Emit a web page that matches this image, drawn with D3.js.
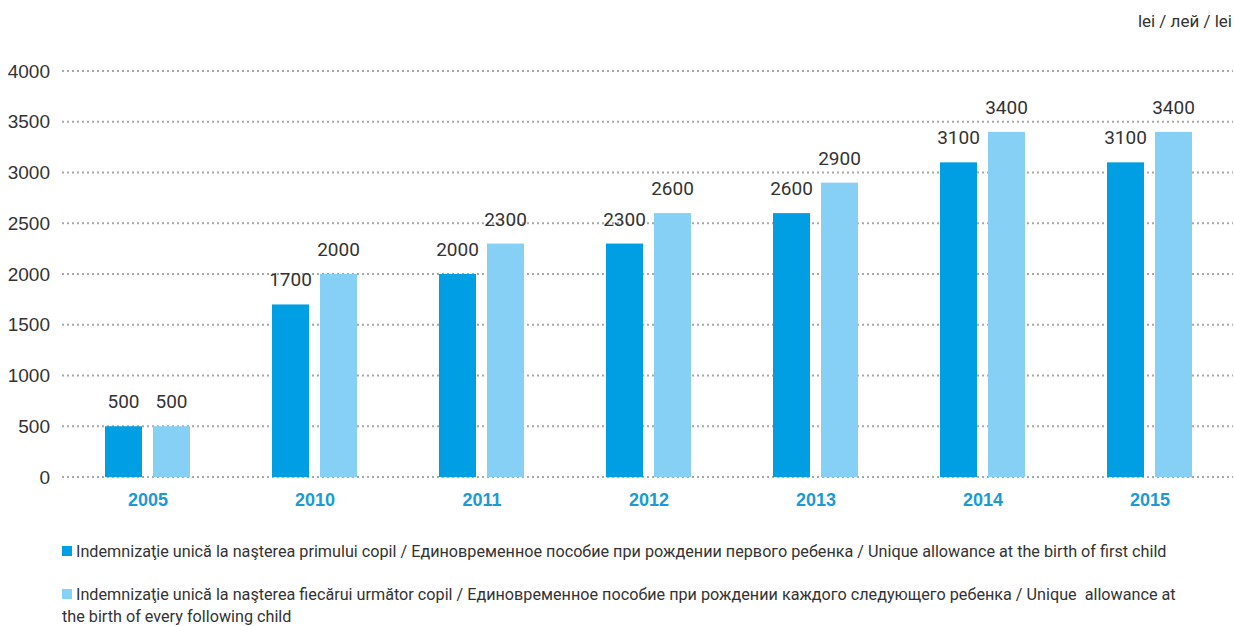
<!DOCTYPE html>
<html>
<head>
<meta charset="utf-8">
<script src="https://cdn.jsdelivr.net/npm/d3@7"></script>
<style>
  html, body { margin: 0; padding: 0; background: #fff; }
  svg { display: block; font-family: "Liberation Sans Narrow", "Roboto", "DejaVu Sans Condensed", sans-serif; }
  .legend-text { white-space: pre; }
</style>
</head>
<body>
<svg id="chart" width="1234" height="626"></svg>
<script>
// Unique birth allowance by year, lei
const years = ["2005", "2010", "2011", "2012", "2013", "2014", "2015"];
const firstChild = [500, 1700, 2000, 2300, 2600, 3100, 3100];
const followingChild = [500, 2000, 2300, 2600, 2900, 3400, 3400];
const yTicks = [0, 500, 1000, 1500, 2000, 2500, 3000, 3500, 4000];
const seriesNames = [
  "Indemnizaţie unică la naşterea primului copil / Единовременное пособие при рождении первого ребенка / Unique allowance at the birth of first child",
  "Indemnizaţie unică la naşterea fiecărui următor copil / Единовременное пособие при рождении каждого следующего ребенка / Unique  allowance at",
  "the birth of every following child"
];
const unitLabel = "lei / лей / lei";
const colors = ["#009fe3", "#86d0f5"];

const svg = d3.select("#chart");

const x = d3.scaleBand().domain(years).range([64.5, 1233.5]).padding(0);
const y = d3.scaleLinear().domain([0, 4000]).range([477, 71]);

// dotted gridlines
svg.append("g")
  .selectAll("line")
  .data(yTicks)
  .join("line")
  .attr("x1", 62).attr("x2", 1233)
  .attr("y1", d => y(d)).attr("y2", d => y(d))
  .attr("stroke", "#a8a8a8")
  .attr("stroke-width", 2)
  .attr("stroke-dasharray", "2,3");

// y-axis labels
const yAxis = d3.axisLeft(y).tickValues(yTicks).tickFormat(d3.format("d")).tickSize(0).tickPadding(0);
const yg = svg.append("g").attr("transform", "translate(50,0)").call(yAxis);
yg.select(".domain").remove();
yg.selectAll("text")
  .attr("font-size", 19)
  .attr("fill", "#333")
  .attr("font-family", "inherit");

// x-axis year labels
const xAxis = d3.axisBottom(x).tickSize(0).tickPadding(0);
const xg = svg.append("g").attr("transform", "translate(0,493)").call(xAxis);
xg.select(".domain").remove();
xg.selectAll("text")
  .attr("font-size", 18)
  .attr("font-weight", "bold")
  .attr("fill", "#1a9ad6")
  .attr("font-family", "inherit");

// grouped bars
const barOffsets = [-43, 5];
const barW = 37;
const series = [firstChild, followingChild];

series.forEach((vals, si) => {
  const g = svg.append("g");
  g.selectAll("rect")
    .data(years)
    .join("rect")
    .attr("x", d => x(d) + x.bandwidth() / 2 + barOffsets[si])
    .attr("width", barW)
    .attr("y", (d, i) => y(vals[i]))
    .attr("height", (d, i) => y(0) - y(vals[i]))
    .attr("fill", colors[si]);
  g.selectAll("text")
    .data(years)
    .join("text")
    .attr("x", d => x(d) + x.bandwidth() / 2 + barOffsets[si] + barW / 2)
    .attr("y", (d, i) => y(vals[i]) - 18)
    .attr("text-anchor", "middle")
    .attr("font-size", 19)
    .attr("fill", "#333")
    .text((d, i) => vals[i]);
});

// unit label
svg.append("text")
  .attr("x", 1232).attr("y", 27)
  .attr("text-anchor", "end")
  .attr("font-size", 17)
  .attr("fill", "#333")
  .text(unitLabel);

// legend
const legend = svg.append("g");
legend.selectAll("rect")
  .data(colors)
  .join("rect")
  .attr("x", 62)
  .attr("y", (d, i) => 546 + i * 43)
  .attr("width", 10).attr("height", 10)
  .attr("fill", d => d);
legend.selectAll("text")
  .data(seriesNames)
  .join("text")
  .attr("class", "legend-text")
  .attr("x", (d, i) => i < 2 ? 76 : 62)
  .attr("y", (d, i) => [557, 600, 622][i])
  .attr("font-size", 16.2)
  .attr("fill", "#333")
  .text(d => d);
</script>
</body>
</html>
